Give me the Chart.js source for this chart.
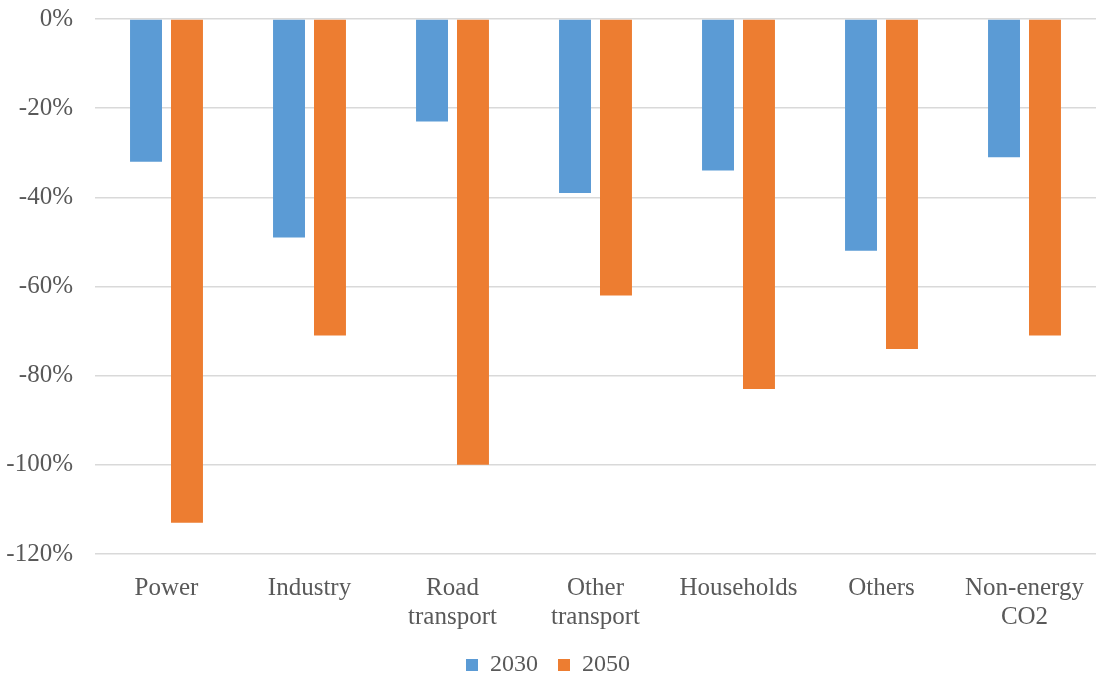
<!DOCTYPE html>
<html>
<head>
<meta charset="utf-8">
<script src="https://cdn.jsdelivr.net/npm/chart.js@4/dist/chart.umd.min.js"></script>
<style>
  html,body{margin:0;padding:0;background:#fff;}
  #wrap{width:1097px;height:682px;position:relative;}
</style>
</head>
<body>
<div id="wrap"><canvas id="chart" width="1097" height="682"></canvas></div>
<script>
// riduzioni emissioni per settore, rispetto all'anno base
const sectors = ['Power','Industry',['Road','transport'],['Other','transport'],'Households','Others',['Non-energy','CO2']];
const cut2030 = [-32,-49,-23,-39,-34,-52,-31];
const cut2050 = [-113,-71,-100,-62,-83,-74,-71];
const yTicks = [0,-20,-40,-60,-80,-100,-120];

const FONT = '"Liberation Serif", "Times New Roman", serif';
const TEXT = '#595959';

new Chart(document.getElementById('chart'), {
  type:'bar',
  data:{
    labels:sectors,
    datasets:[
      {label:'2030', data:cut2030, backgroundColor:'#5b9bd5'},
      {label:'2050', data:cut2050, backgroundColor:'#ed7d31'}
    ]
  },
  options:{
    responsive:false,
    animation:false,
    categoryPercentage:0.573,
    barPercentage:0.78,
    layout:{padding:{top:19,right:1,bottom:-5,left:0}},
    plugins:{
      legend:{
        position:'bottom',
        labels:{boxWidth:12,boxHeight:12,color:TEXT,font:{family:FONT,size:24},padding:20}
      },
      tooltip:{enabled:false}
    },
    scales:{
      y:{
        min:-120,max:0,
        afterBuildTicks:ax=>{ ax.ticks = yTicks.map(v=>({value:v})); },
        afterFit:ax=>{ ax.width = 95; ax.paddingTop = 0; ax.paddingBottom = 0; },
        border:{display:false},
        grid:{color:'#d9d9d9',lineWidth:1.5,drawTicks:false},
        ticks:{color:TEXT,padding:22,font:{family:FONT,size:25},callback:v=>v+'%'}
      },
      x:{
        afterFit:ax=>{ ax.height = 79; },
        border:{display:false},
        grid:{display:false},
        ticks:{color:TEXT,padding:12,maxRotation:0,font:{family:FONT,size:25,lineHeight:1.16}}
      }
    }
  }
});
</script>
</body>
</html>
